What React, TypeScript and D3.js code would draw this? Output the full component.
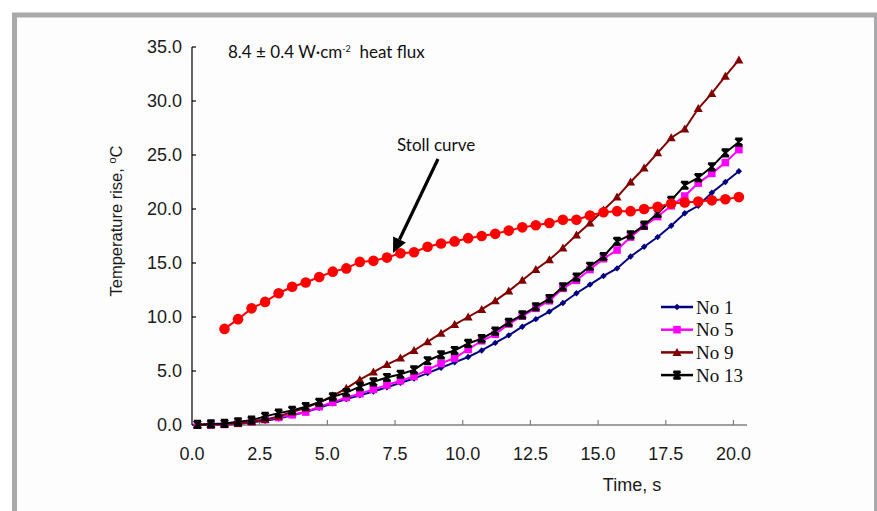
import React from "react";
import * as d3 from "d3";

const times = [0.2, 0.7, 1.2, 1.7, 2.2, 2.7, 3.2, 3.7, 4.2, 4.7, 5.2, 5.7, 6.2, 6.7, 7.2, 7.7, 8.2, 8.7, 9.2, 9.7, 10.2, 10.7, 11.2, 11.7, 12.2, 12.7, 13.2, 13.7, 14.2, 14.7, 15.2, 15.7, 16.2, 16.7, 17.2, 17.7, 18.2, 18.7, 19.2, 19.7, 20.2];
const stollTimes = [1.2, 1.7, 2.2, 2.7, 3.2, 3.7, 4.2, 4.7, 5.2, 5.7, 6.2, 6.7, 7.2, 7.7, 8.2, 8.7, 9.2, 9.7, 10.2, 10.7, 11.2, 11.7, 12.2, 12.7, 13.2, 13.7, 14.2, 14.7, 15.2, 15.7, 16.2, 16.7, 17.2, 17.7, 18.2, 18.7, 19.2, 19.7, 20.2];

const no1 = [0, 0, 0.05, 0.1, 0.25, 0.4, 0.6, 0.9, 1.2, 1.6, 2.0, 2.4, 2.75, 3.1, 3.5, 3.9, 4.3, 4.8, 5.3, 5.8, 6.3, 6.9, 7.6, 8.3, 9.1, 9.8, 10.5, 11.3, 12.2, 13.0, 13.8, 14.5, 15.6, 16.5, 17.4, 18.45, 19.6, 20.3, 21.5, 22.5, 23.5];
const no5 = [0, 0, 0.05, 0.15, 0.3, 0.5, 0.7, 0.95, 1.2, 1.7, 2.1, 2.55, 2.9, 3.3, 3.7, 4.1, 4.5, 5.1, 5.7, 6.2, 7.0, 7.8, 8.4, 9.35, 10.1, 10.8, 11.5, 12.65, 13.4, 14.4, 15.4, 16.2, 17.4, 18.4, 19.3, 20.3, 21.2, 22.4, 23.3, 24.3, 25.5];
const no9 = [0, 0.05, 0.1, 0.15, 0.3, 0.5, 0.8, 1.2, 1.6, 2.1, 2.7, 3.4, 4.2, 4.9, 5.6, 6.2, 6.9, 7.7, 8.5, 9.3, 10.0, 10.7, 11.5, 12.4, 13.4, 14.4, 15.3, 16.4, 17.6, 18.7, 19.9, 21.1, 22.5, 23.8, 25.2, 26.6, 27.4, 29.3, 30.7, 32.3, 33.8];
const no13 = [0.05, 0.1, 0.15, 0.3, 0.45, 0.8, 1.1, 1.35, 1.7, 2.1, 2.6, 3.0, 3.55, 4.0, 4.4, 4.7, 5.1, 5.95, 6.5, 6.9, 7.55, 8.0, 8.7, 9.5, 10.2, 10.95, 11.7, 12.8, 13.7, 14.7, 15.6, 17.0, 17.6, 18.5, 19.6, 20.8, 22.2, 22.9, 23.9, 25.2, 26.2];
const stoll = [8.9, 9.8, 10.8, 11.4, 12.2, 12.8, 13.2, 13.7, 14.2, 14.5, 15.1, 15.2, 15.5, 15.9, 16.0, 16.5, 16.8, 17.0, 17.3, 17.5, 17.7, 18.0, 18.3, 18.5, 18.7, 19.0, 19.0, 19.4, 19.7, 19.8, 19.8, 20.0, 20.2, 20.5, 20.6, 20.7, 20.8, 20.9, 21.1];

const xTicks = [0, 2.5, 5, 7.5, 10, 12.5, 15, 17.5, 20];
const yTicks = [0, 5, 10, 15, 20, 25, 30, 35];
const seriesNames = ["No 1", "No 5", "No 9", "No 13"];
const seriesColors = ["#000080", "#ff00ff", "#800000", "#000000"];
const seriesMarkers = ["diamond", "square", "triangle", "star"];

const x = d3.scaleLinear().domain([0, 20.5]).range([192, 747]);
const y = d3.scaleLinear().domain([0, 35]).range([425, 47]);

function Marker({ type, cx, cy, color }: { type: string; cx: number; cy: number; color: string }) {
  if (type === "diamond") {
    const s = 3.2;
    return <path d={`M${cx},${cy - s}L${cx + s},${cy}L${cx},${cy + s}L${cx - s},${cy}Z`} fill={color} />;
  }
  if (type === "square") {
    return <rect x={cx - 3.8} y={cy - 3.8} width={7.6} height={7.6} fill={color} />;
  }
  if (type === "triangle") {
    return <path d={`M${cx},${cy - 4.5}L${cx + 4.5},${cy + 3.5}L${cx - 4.5},${cy + 3.5}Z`} fill={color} />;
  }
  if (type === "star") {
    const s = 3.6;
    return (
      <path
        d={`M${cx - s},${cy - s}L${cx + s},${cy + s}M${cx + s},${cy - s}L${cx - s},${cy + s}M${cx},${cy - s}L${cx},${cy + s}M${cx - s},${cy - s}L${cx + s},${cy - s}M${cx - s},${cy + s}L${cx + s},${cy + s}`}
        stroke={color}
        strokeWidth={2}
        fill="none"
      />
    );
  }
  return <circle cx={cx} cy={cy} r={5.3} fill={color} />;
}

export default function App() {
  const allSeries = [no1, no5, no9, no13];
  const line = d3
    .line<[number, number]>()
    .x((d) => x(d[0]))
    .y((d) => y(d[1]));

  const ax1 = 438, ay1 = 159, ax2 = 393, ay2 = 253;
  const ang = Math.atan2(ay2 - ay1, ax2 - ax1);
  const hl = 15, hw = 7;
  const bx = ax2 - hl * Math.cos(ang), by = ay2 - hl * Math.sin(ang);
  const px = -Math.sin(ang) * hw, py = Math.cos(ang) * hw;

  return (
    <svg width={877} height={511} style={{ position: "absolute", left: 0, top: 0, display: "block" }}>
      <rect x={0} y={0} width={877} height={511} fill="#ffffff" />
      <rect x={14.5} y={15} width={862} height={600} fill="#fdfdfd" stroke="#a9a9ac" strokeWidth={5} />

      <line x1={x(0)} x2={747} y1={y(0)} y2={y(0)} stroke="#7f7f7f" strokeWidth={1.5} />
      {xTicks.map((t) => (
        <g key={"xt" + t}>
          {t > 0 && <line x1={x(t)} x2={x(t)} y1={y(0)} y2={y(0) - 5} stroke="#7f7f7f" strokeWidth={1.2} />}
          <text x={x(t)} y={460} textAnchor="middle" fontFamily="Liberation Sans, Arial, sans-serif" fontSize={18} fill="#1a1a1a">
            {t.toFixed(1)}
          </text>
        </g>
      ))}
      <line x1={x(0)} x2={x(0)} y1={y(35)} y2={y(0)} stroke="#000" strokeWidth={1.2} />
      {yTicks.map((t) => (
        <g key={"yt" + t}>
          <line x1={x(0)} x2={x(0) + 4} y1={y(t)} y2={y(t)} stroke="#000" strokeWidth={1.2} />
          <text x={182} y={y(t)} dy="0.36em" textAnchor="end" fontFamily="Liberation Sans, Arial, sans-serif" fontSize={18} fill="#1a1a1a">
            {t.toFixed(1)}
          </text>
        </g>
      ))}

      <text x={632} y={491} textAnchor="middle" fontFamily="Liberation Sans, Arial, sans-serif" fontSize={18} fill="#1a1a1a">
        Time, s
      </text>
      <text
        transform="translate(122,221) rotate(-90)"
        textAnchor="middle"
        fontFamily="Liberation Sans, Arial, sans-serif"
        fontSize={16.5}
        fill="#1a1a1a"
      >
        Temperature rise, <tspan dy={-6} fontSize={11}>o</tspan>
        <tspan dy={6}>C</tspan>
      </text>

      <text x={228} y={58} fontFamily="Lato, sans-serif" fontSize={17} fill="#111">
        8.4 ± 0.4 W·cm<tspan dy={-6} fontSize={9}>-2</tspan>
        <tspan dy={6}>{"\u00a0 heat flux"}</tspan>
      </text>

      {allSeries.map((vals, si) => (
        <g key={"s" + si}>
          <path
            d={line(vals.map((v, i) => [times[i], v] as [number, number])) || ""}
            fill="none"
            stroke={seriesColors[si]}
            strokeWidth={2}
          />
          {vals.map((v, i) => (
            <Marker key={i} type={seriesMarkers[si]} cx={x(times[i])} cy={y(v)} color={seriesColors[si]} />
          ))}
        </g>
      ))}
      <g>
        <path
          d={line(stoll.map((v, i) => [stollTimes[i], v] as [number, number])) || ""}
          fill="none"
          stroke="#ff0000"
          strokeWidth={2}
        />
        {stoll.map((v, i) => (
          <Marker key={i} type="circle" cx={x(stollTimes[i])} cy={y(v)} color="#ff0000" />
        ))}
      </g>

      <text x={397} y={151} fontFamily="Lato, sans-serif" fontSize={17} fill="#111">
        Stoll curve
      </text>
      <line x1={ax1} y1={ay1} x2={bx} y2={by} stroke="#000" strokeWidth={3.2} />
      <path d={`M${ax2},${ay2}L${bx + px},${by + py}L${bx - px},${by - py}Z`} fill="#000" />

      {seriesNames.map((n, i) => {
        const ly = 307 + i * 22.7;
        return (
          <g key={"lg" + i}>
            <line x1={661} x2={693} y1={ly} y2={ly} stroke={seriesColors[i]} strokeWidth={2.5} />
            <Marker type={seriesMarkers[i]} cx={677} cy={ly} color={seriesColors[i]} />
            <text x={696} y={ly} dy="0.35em" fontFamily="Liberation Serif, Times New Roman, serif" fontSize={19} fill="#111">
              {n}
            </text>
          </g>
        );
      })}
    </svg>
  );
}
